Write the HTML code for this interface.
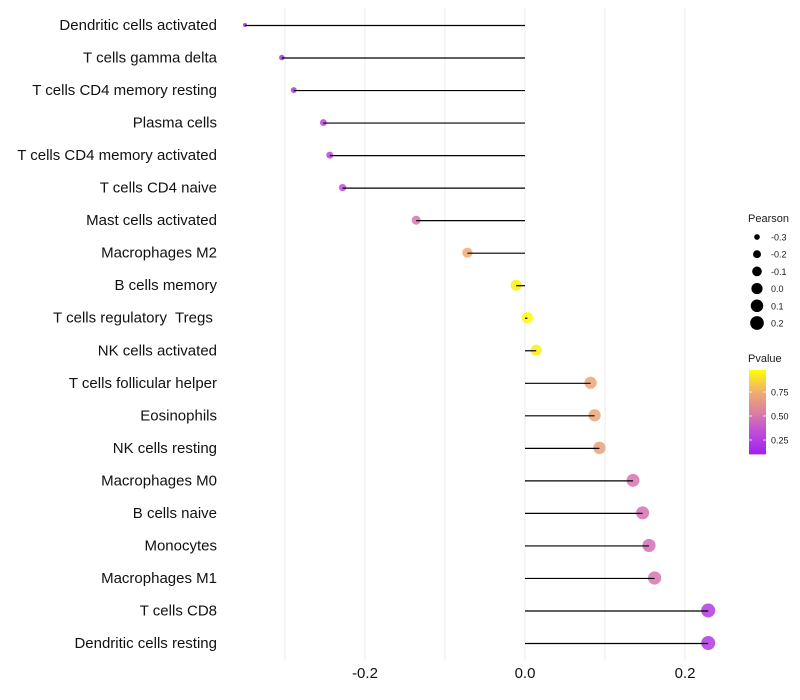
<!DOCTYPE html>
<html><head><meta charset="utf-8"><style>
body{margin:0;background:#fff;}
svg{display:block;font-family:"Liberation Sans",sans-serif;}
text{white-space:pre;}
</style></head><body>
<svg id="chart" width="800" height="700"></svg>
<script>
const categories=["Dendritic cells activated","T cells gamma delta","T cells CD4 memory resting","Plasma cells","T cells CD4 memory activated","T cells CD4 naive","Mast cells activated","Macrophages M2","B cells memory","T cells regulatory  Tregs ","NK cells activated","T cells follicular helper","Eosinophils","NK cells resting","Macrophages M0","B cells naive","Monocytes","Macrophages M1","T cells CD8","Dendritic cells resting"];
const pearson=[-0.35,-0.304,-0.289,-0.252,-0.244,-0.228,-0.136,-0.072,-0.011,0.003,0.014,0.082,0.087,0.093,0.135,0.147,0.155,0.162,0.229,0.229];
const pvalues=[0.05,0.1,0.1,0.2,0.22,0.25,0.45,0.72,0.95,0.98,0.95,0.7,0.7,0.67,0.45,0.43,0.42,0.45,0.15,0.15];
const xTicks=[-0.2,0.0,0.2];
const xTickLabels=["-0.2","0.0","0.2"];
const gridVals=[-0.3,-0.2,-0.1,0,0.1,0.2];
const sizeLegend=[-0.3,-0.2,-0.1,0.0,0.1,0.2];
const sizeLegendLabels=["-0.3","-0.2","-0.1","0.0","0.1","0.2"];
const pLegend=[0.25,0.5,0.75];
const pLegendLabels=["0.25","0.50","0.75"];

const NS="http://www.w3.org/2000/svg";
const svg=document.getElementById('chart');
function el(t,a,p){const e=document.createElementNS(NS,t);for(const k in a)e.setAttribute(k,a[k]);(p||svg).appendChild(e);return e;}
const x=v=>525+v*800;
const y=i=>25+i*(618/19);
const r=v=>Math.sqrt(Math.max(3,31.2+77.6*v));
const stops=[[0,[160,32,240]],[0.3,[196,84,212]],[0.5,[220,128,160]],[0.75,[240,176,110]],[1,[255,255,0]]];
function col(p){for(let i=1;i<stops.length;i++){if(p<=stops[i][0]){const a=stops[i-1],b=stops[i];const t=(p-a[0])/(b[0]-a[0]);const c=a[1].map((v,k)=>Math.round(v+(b[1][k]-v)*t));return `rgb(${c})`;}}return 'rgb(255,255,0)';}

const grid=el('g',{});


gridVals.forEach(v=>{const l=el('line',{x1:x(v),x2:x(v),y1:8,y2:660,stroke:'#ebebeb','stroke-width':1},grid);

});

categories.forEach((c,i)=>{
 const t=el('text',{x:217,y:y(i)+5,'text-anchor':'end','font-size':15,fill:'#111'});t.textContent=c;
 
 
 const d=el('circle',{cx:x(pearson[i]),cy:y(i),r:r(pearson[i]),fill:col(pvalues[i]),'fill-opacity':0.85});
 
 
 const l=el('line',{x1:x(0),x2:x(pearson[i]),y1:y(i)+0.5,y2:y(i)+0.5,stroke:'#000','stroke-width':1.2});
 
 
});
xTicks.forEach((v,i)=>{const t=el('text',{x:x(v),y:678,'text-anchor':'middle','font-size':15,fill:'#111'});t.textContent=xTickLabels[i];
 
 });

const lt=el('text',{x:748,y:222,'font-size':11,fill:'#1a1a1a'});lt.textContent='Pearson';


sizeLegend.forEach((v,i)=>{const cy=237+i*17.2;
 const c=el('circle',{cx:757,cy:cy,r:r(v),fill:'#000'});
 
 
 const t=el('text',{x:771,y:cy+3.5,'font-size':9,fill:'#1a1a1a'});t.textContent=sizeLegendLabels[i];
 
 });
const pt=el('text',{x:748,y:362,'font-size':11,fill:'#1a1a1a'});pt.textContent='Pvalue';


const defs=el('defs',{});const lg=el('linearGradient',{id:'pg',x1:0,y1:1,x2:0,y2:0},defs);
const py=p=>440-(p-0.25)*96;
const barTop=py(0.98),barBot=py(0.1);
stops.forEach(s=>{el('stop',{offset:s[0],'stop-color':col(s[0])},lg);});
const bar=el('rect',{x:749,y:barTop,width:17,height:barBot-barTop,fill:'url(#pg)'});


pLegend.forEach((p,i)=>{const yy=py(p);
 el('line',{x1:749,x2:752,y1:yy,y2:yy,stroke:'#fff','stroke-width':0.8});
 el('line',{x1:763,x2:766,y1:yy,y2:yy,stroke:'#fff','stroke-width':0.8});
 const t=el('text',{x:771,y:yy+3.5,'font-size':9,fill:'#1a1a1a'});t.textContent=pLegendLabels[i];
 
 });
</script>
</body></html>
